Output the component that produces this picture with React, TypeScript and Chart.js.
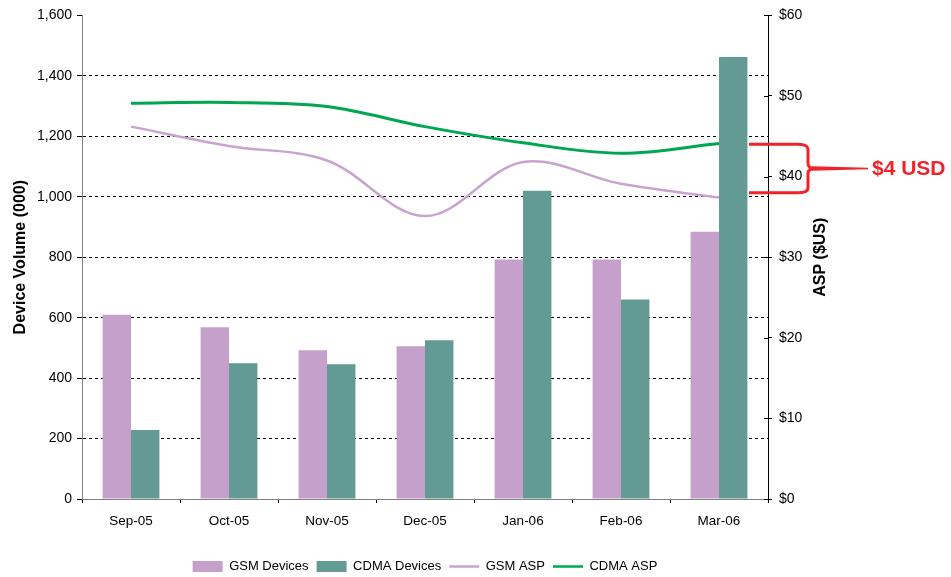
import { useEffect, useRef } from 'react';
import { Chart, registerables } from 'chart.js';

Chart.register(...registerables);

const categories = ['Sep-05', 'Oct-05', 'Nov-05', 'Dec-05', 'Jan-06', 'Feb-06', 'Mar-06'];
const gsmDevices = [610, 568, 492, 505, 792, 792, 884];
const cdmaDevices = [228, 449, 446, 525, 1020, 660, 1462];
const gsmAsp = [46.2, 43.8, 42.0, 35.1, 41.8, 39.1, 37.4];
const cdmaAsp = [49.1, 49.2, 48.7, 46.2, 44.2, 42.9, 44.1];
const bracketValues = [44, 38];
const bracketText = '$4 USD';
const leftTitle = 'Device Volume (000)';
const rightTitle = 'ASP ($US)';

const FONT = '"Liberation Sans", Arial, Helvetica, sans-serif';
const GSM_BAR = '#C5A0CA';
const CDMA_BAR = '#639A94';
const GSM_LINE = '#C9A2D0';
const CDMA_LINE = '#00A650';
const RED = '#F0222A';

export default function App() {
  const ref = useRef<HTMLCanvasElement>(null);

  useEffect(() => {
    document.body.style.margin = '0';
    const extras = {
      id: 'extras',
      afterDraw(chart: any) {
        const { ctx, chartArea } = chart;
        const y1 = chart.scales.y1;
        const R = chartArea.right;
        // right axis title
        ctx.save();
        ctx.fillStyle = '#000';
        ctx.font = `bold 16px ${FONT}`;
        ctx.textAlign = 'center';
        ctx.textBaseline = 'middle';
        ctx.translate(821, (chartArea.top + chartArea.bottom) / 2);
        ctx.rotate(-Math.PI / 2);
        ctx.fillText(rightTitle, 0, 0);
        ctx.restore();

        // inward halves of the right-axis tick marks
        ctx.save();
        ctx.strokeStyle = '#000';
        ctx.lineWidth = 1;
        y1.ticks.forEach((t: any) => {
          const py = Math.round(y1.getPixelForValue(t.value)) + 0.5;
          ctx.beginPath();
          ctx.moveTo(R - 4, py);
          ctx.lineTo(R, py);
          ctx.stroke();
        });
        ctx.restore();

        // bracket annotation
        const yTop = y1.getPixelForValue(bracketValues[0]);
        const yBot = y1.getPixelForValue(bracketValues[1]);
        const yMid = (yTop + yBot) / 2;
        ctx.save();
        ctx.strokeStyle = RED;
        ctx.fillStyle = RED;
        ctx.lineWidth = 3;
        ctx.lineJoin = 'round';
        ctx.beginPath();
        ctx.moveTo(R - 19, yTop);
        ctx.lineTo(R + 30, yTop);
        ctx.quadraticCurveTo(R + 40, yTop, R + 40, yTop + 5);
        ctx.lineTo(R + 40, yMid - 5);
        ctx.quadraticCurveTo(R + 40, yMid, R + 47, yMid);
        ctx.quadraticCurveTo(R + 40, yMid, R + 40, yMid + 5);
        ctx.lineTo(R + 40, yBot - 5);
        ctx.quadraticCurveTo(R + 40, yBot, R + 30, yBot);
        ctx.lineTo(R - 19, yBot);
        ctx.stroke();
        ctx.beginPath();
        ctx.moveTo(R + 44, yMid - 2.2);
        ctx.lineTo(R + 100, yMid - 0.8);
        ctx.lineTo(R + 100, yMid + 0.8);
        ctx.lineTo(R + 44, yMid + 2.2);
        ctx.closePath();
        ctx.fill();
        ctx.font = `bold 21px ${FONT}`;
        ctx.textAlign = 'left';
        ctx.textBaseline = 'middle';
        ctx.fillText(bracketText, R + 104, yMid + 1);
        ctx.restore();
      },
    };

    const chart = new Chart(ref.current!, {
      type: 'bar',
      data: {
        labels: categories,
        datasets: [
          { type: 'bar', label: 'GSM Devices', data: gsmDevices, backgroundColor: GSM_BAR, yAxisID: 'y', order: 2, categoryPercentage: 0.58, barPercentage: 1 } as any,
          { type: 'bar', label: 'CDMA Devices', data: cdmaDevices, backgroundColor: CDMA_BAR, yAxisID: 'y', order: 2, categoryPercentage: 0.58, barPercentage: 1 } as any,
          { type: 'line', label: 'GSM ASP', data: gsmAsp, borderColor: GSM_LINE, borderWidth: 2.5, pointRadius: 0, tension: 0.35, yAxisID: 'y1', order: 1, fill: false } as any,
          { type: 'line', label: 'CDMA ASP', data: cdmaAsp, borderColor: CDMA_LINE, borderWidth: 3, pointRadius: 0, tension: 0.35, yAxisID: 'y1', order: 1, fill: false } as any,
        ],
      },
      options: {
        animation: false,
        responsive: true,
        maintainAspectRatio: false,
        layout: { padding: { top: 14, left: 0, right: 0, bottom: 0 } },
        plugins: {
          tooltip: { enabled: false },
          legend: {
            position: 'bottom',
            fullSize: false,
            labels: {
              usePointStyle: true,
              pointStyleWidth: 30,
              boxHeight: 11,
              padding: 8,
              color: '#000',
              font: { size: 13, family: FONT },
              generateLabels: (c: any) =>
                c.data.datasets.map((ds: any, i: number) => {
                  const isBar = ds.type === 'bar';
                  return {
                    text: ds.label,
                    fillStyle: isBar ? ds.backgroundColor : 'rgba(0,0,0,0)',
                    strokeStyle: isBar ? ds.backgroundColor : ds.borderColor,
                    lineWidth: isBar ? 0 : 2.5,
                    pointStyle: isBar ? 'rect' : 'line',
                    hidden: false,
                    datasetIndex: i,
                    fontColor: '#000',
                  };
                }),
            },
          },
        },
        scales: {
          x: {
            grid: { display: true, drawOnChartArea: false, offset: true, tickLength: 4, color: '#000' },
            border: { color: '#808080', width: 1 },
            ticks: { color: '#000', font: { size: 13.5, family: FONT }, padding: 10, maxRotation: 0 },
            afterFit: (s: any) => { s.height = 53; },
          },
          y: {
            position: 'left',
            min: 0,
            max: 1600,
            ticks: {
              stepSize: 200,
              color: '#000',
              padding: 5,
              font: { size: 14, family: FONT },
              callback: (v: any) => Number(v).toLocaleString('en-US'),
            },
            grid: {
              color: (c: any) => (c.tick && (c.tick.value === 0 || c.tick.value === 1600) ? 'rgba(0,0,0,0)' : '#000'),
              tickColor: '#000',
              tickLength: 5,
              lineWidth: 1,
            },
            border: { color: '#808080', width: 1, dash: [3, 3] },
            title: {
              display: true,
              text: leftTitle,
              color: '#000',
              font: { size: 16, weight: 'bold', family: FONT },
              padding: { top: 11, bottom: 0 },
            },
            afterFit: (s: any) => { s.width = 82; },
          },
          y1: {
            position: 'right',
            min: 0,
            max: 60,
            ticks: {
              stepSize: 10,
              color: '#000',
              padding: 7,
              font: { size: 14, family: FONT },
              callback: (v: any) => '$' + v,
            },
            grid: { drawOnChartArea: false, tickLength: 4, color: '#000' },
            border: { color: '#000', width: 1 },
            afterFit: (s: any) => { s.width = 183; },
          },
        },
      } as any,
      plugins: [extras],
    });
    return () => chart.destroy();
  }, []);

  return (
    <div style={{ position: 'fixed', left: 0, top: 0, width: '951px', height: '583px', background: '#fff' }}>
      <canvas ref={ref} />
    </div>
  );
}
